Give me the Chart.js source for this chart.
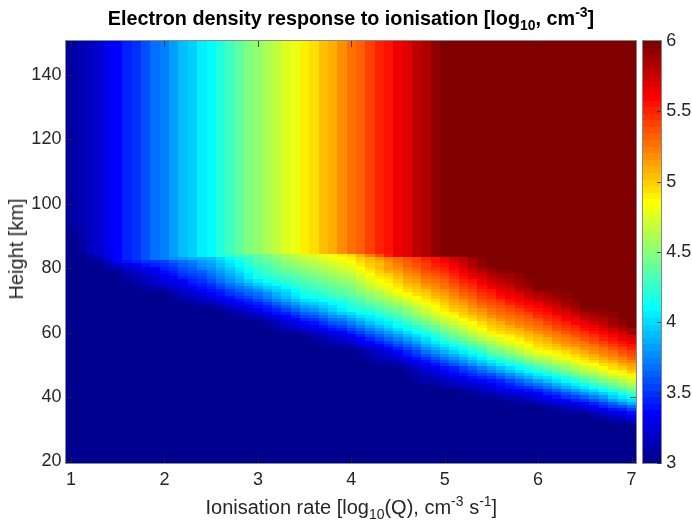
<!DOCTYPE html>
<html>
<head>
<meta charset="utf-8">
<script src="https://cdn.jsdelivr.net/npm/chart.js@4.4.1/dist/chart.umd.min.js"></script>
<style>
html,body{margin:0;padding:0;background:#fff;}
#wrap{position:relative;width:692px;height:524px;overflow:hidden;background:#fff;}
#c{position:absolute;left:0;top:0;}
.lbl{position:absolute;white-space:nowrap;font-family:"Liberation Sans",Arial,Helvetica,sans-serif;font-size:20px;line-height:20px;}
#title{left:351px;top:8px;transform:translateX(-50%);font-weight:bold;color:#000;font-size:19.8px;}
#xlabel{left:351.3px;top:497px;transform:translateX(-50%);color:#262626;}
#ylabel{left:16px;top:249px;transform:translate(-50%,-50%) rotate(-90deg);color:#262626;}
.sub{font-size:14px;position:relative;top:5px;}
.sup{font-size:14px;position:relative;top:-8px;}
</style>
</head>
<body>
<div id="wrap">
  <canvas id="c" width="692" height="524"></canvas>
  <div id="title" class="lbl">Electron density response to ionisation [log<span class="sub">10</span>, cm<span class="sup">-3</span>]</div>
  <div id="xlabel" class="lbl">Ionisation rate [log<span class="sub">10</span>(Q), cm<span class="sup">-3</span> s<span class="sup">-1</span>]</div>
  <div id="ylabel" class="lbl">Height [km]</div>
</div>
<script>
// ---- grid (cell centres) ----
const xCenters = [1.0,1.1,1.2,1.3,1.4,1.5,1.6,1.7,1.8,1.9,2.0,2.1,2.2,2.3,2.4,2.5,2.6,2.7,2.8,2.9,
  3.0,3.1,3.2,3.3,3.4,3.5,3.6,3.7,3.8,3.9,4.0,4.1,4.2,4.3,4.4,4.5,4.6,4.7,4.8,4.9,
  5.0,5.1,5.2,5.3,5.4,5.5,5.6,5.7,5.8,5.9,6.0,6.1,6.2,6.3,6.4,6.5,6.6,6.7,6.8,6.9,7.0];
const heights = [20,21,22,23,24,25,26,27,28,29,30,31,32,33,34,35,36,37,38,39,40,41,42,43,44,45,46,47,48,49,
  50,51,52,53,54,55,56,57,58,59,60,61,62,63,64,65,66,67,68,69,70,71,72,73,74,75,76,77,78,79,
  80,81,82,83,84,85,86,87,88,89,90,91,92,93,94,95,96,97,98,99,100,101,102,103,104,105,106,107,108,109,
  110,111,112,113,114,115,116,117,118,119,120,121,122,123,124,125,126,127,128,129,130,131,132,133,134,135,136,137,138,139,
  140,141,142,143,144,145,146,147,148,149,150];

// ---- tick labels ----
const xTicks = [1,2,3,4,5,6,7];
const yTicks = [20,40,60,80,100,120,140];
const cTicks = [3,3.5,4,4.5,5,5.5,6];

// ---- vertical profiles read from the picture at sampled ionisation rates ----
// each profile: heights [km] and log10 electron density at those heights
const profileX = [1,1.25,1.5,2,2.5,3,3.5,4,4.5,5,5.5,6,6.5,7];
const profileHeights = [
  [86,92,94],
  [81.5,84,85],
  [77,79.5,81.5,82],
  [71.5,75.5,79.5,82,82.5],
  [67,71.5,76.5,83.5,84],
  [63,68,72.8,76.5,84.5,85],
  [58.5,63.5,71.5,78,84.5,85],
  [54,59.5,67,74.5,84,84.5],
  [48.5,54.5,62.5,68,73.3,80,83.5,84],
  [42,49,56.5,61.5,66.5,74,81.5,83,83.5],
  [39,45,51.5,55.5,60,66.5,74,81],
  [36.5,41.5,47.5,51,55,61.5,68.5,74.5],
  [34,38.2,43.6,46.9,50.8,56.3,62.5,68.5],
  [31,35,39.7,42.8,46.6,51.2,57,62.5]
];
const profileValues = [
  [3.0,3.04,3.06],
  [3.0,3.1,3.18],
  [3.0,3.1,3.25,3.36],
  [3.0,3.22,3.4,3.55,3.74],
  [3.0,3.3,3.6,3.95,4.12],
  [3.0,3.375,3.75,4.125,4.4,4.54],
  [3.0,3.375,4.125,4.45,4.75,4.88],
  [3.0,3.375,4.125,4.5,4.95,5.26],
  [3.0,3.375,4.125,4.5,4.875,5.2,5.3,5.64],
  [3.0,3.375,4.125,4.5,4.875,5.25,5.6,5.65,6.0],
  [3.0,3.375,4.125,4.5,4.875,5.25,5.625,6.0],
  [3.0,3.375,4.125,4.5,4.875,5.25,5.625,6.0],
  [3.0,3.375,4.125,4.5,4.875,5.25,5.625,6.0],
  [3.0,3.375,4.125,4.5,4.875,5.25,5.625,6.0]
];
const cMin = 3, cMax = 6;

function profileAt(k, h) {
  const hs = profileHeights[k], vs = profileValues[k];
  if (h <= hs[0]) return vs[0];
  for (let i = 1; i < hs.length; i++) {
    if (h <= hs[i]) {
      const t = (h - hs[i-1]) / (hs[i] - hs[i-1]);
      return vs[i-1] + t * (vs[i] - vs[i-1]);
    }
  }
  return vs[vs.length-1];
}
function cellValue(x, h) {
  let k0 = 0;
  while (k0 < profileX.length - 2 && x > profileX[k0 + 1] + 1e-9) k0++;
  const t = (x - profileX[k0]) / (profileX[k0 + 1] - profileX[k0]);
  return (1 - t) * profileAt(k0, h) + t * profileAt(k0 + 1, h);
}

// MATLAB jet(64)
function jet64(i) { // i: 1..64
  const n = 16;
  const u = k => (k >= 1 && k <= n) ? k / n : (k > n && k < 2*n) ? 1 : (k >= 2*n && k <= 3*n-1) ? (3*n - k) / n : 0;
  const r = u(i - 24), g = u(i - 8), b = u(i + 8);
  return 'rgb(' + Math.round(r*255) + ',' + Math.round(g*255) + ',' + Math.round(b*255) + ')';
}
function colorFor(v) {
  let idx = Math.floor((v - cMin) / (cMax - cMin) * 64) + 1;
  idx = Math.max(1, Math.min(64, idx));
  return jet64(idx);
}

const cells = [];
for (const x of xCenters) for (const h of heights) cells.push({x: x, y: h, v: cellValue(x, h)});

const dx = xCenters[1] - xCenters[0], dy = heights[1] - heights[0];

const heatmapPlugin = {
  id: 'heatmap',
  beforeDatasetsDraw(chart) {
    const ctx = chart.ctx, xs = chart.scales.x, ys = chart.scales.y;
    ctx.save();
    for (const c of chart.data.datasets[0].data) {
      const x0 = Math.round(xs.getPixelForValue(c.x - dx/2));
      const x1 = Math.round(xs.getPixelForValue(c.x + dx/2));
      const y0 = Math.round(ys.getPixelForValue(c.y + dy/2));
      const y1 = Math.round(ys.getPixelForValue(c.y - dy/2));
      ctx.fillStyle = colorFor(c.v);
      ctx.fillRect(x0, y0, x1 - x0, y1 - y0);
    }
    // colour bar
    const cb = chart.scales.cb;
    const bx0 = Math.round(cb.left + 7), bx1 = Math.round(cb.left + 25);
    for (let i = 0; i < 64; i++) {
      const yA = Math.round(cb.getPixelForValue(cMin + (i + 1) * (cMax - cMin) / 64));
      const yB = Math.round(cb.getPixelForValue(cMin + i * (cMax - cMin) / 64));
      ctx.fillStyle = jet64(i + 1);
      ctx.fillRect(bx0, yA, bx1 - bx0, yB - yA);
    }
    ctx.restore();
  },
  afterDraw(chart) {
    const ctx = chart.ctx, xs = chart.scales.x, ys = chart.scales.y, cb = chart.scales.cb;
    const a = chart.chartArea;
    const L = Math.round(a.left), R = Math.round(a.right), T = Math.round(a.top), B = Math.round(a.bottom);
    ctx.save();
    ctx.lineWidth = 1;
    ctx.strokeStyle = 'rgba(38,38,38,0.55)';
    ctx.strokeRect(L - 0.5, T - 0.5, R - L + 1, B - T + 1);
    ctx.strokeStyle = 'rgba(38,38,38,0.8)';
    ctx.beginPath();
    const tl = 6;
    for (const v of xTicks) {
      const p = Math.round(xs.getPixelForValue(v)) + 0.5;
      ctx.moveTo(p, B); ctx.lineTo(p, B - tl);
      ctx.moveTo(p, T); ctx.lineTo(p, T + tl);
    }
    for (const v of yTicks) {
      const p = Math.round(ys.getPixelForValue(v)) + 0.5;
      ctx.moveTo(L, p); ctx.lineTo(L + tl, p);
      ctx.moveTo(R, p); ctx.lineTo(R - tl, p);
    }
    ctx.stroke();
    // colour bar frame and ticks
    const bx0 = Math.round(cb.left + 7), bx1 = Math.round(cb.left + 25);
    ctx.strokeStyle = 'rgba(38,38,38,0.55)';
    ctx.strokeRect(bx0 - 0.5, T - 0.5, bx1 - bx0 + 1, B - T + 1);
    ctx.strokeStyle = 'rgba(38,38,38,0.8)';
    ctx.beginPath();
    for (const v of cTicks) {
      const p = Math.round(cb.getPixelForValue(v)) + 0.5;
      ctx.moveTo(bx1, p); ctx.lineTo(bx1 - 4, p);
    }
    ctx.stroke();
    ctx.restore();
  }
};

Chart.defaults.font.family = '"Liberation Sans", Arial, Helvetica, sans-serif';
const tickFont = {size: 18};
const tickColor = '#262626';

new Chart(document.getElementById('c'), {
  type: 'scatter',
  data: {datasets: [{data: cells, pointRadius: 0, pointHoverRadius: 0, showLine: false}]},
  options: {
    responsive: false,
    animation: false,
    devicePixelRatio: 1,
    events: [],
    layout: {padding: {left: 0, right: 0, top: 41.2, bottom: 0}},
    plugins: {legend: {display: false}, tooltip: {enabled: false}, title: {display: false}},
    scales: {
      x: {
        type: 'linear', min: 0.95, max: 7.05,
        afterBuildTicks: s => { s.ticks = xTicks.map(v => ({value: v})); },
        afterFit: s => { s.height = 61; },
        grid: {display: false, drawTicks: false},
        border: {display: false},
        ticks: {font: tickFont, color: tickColor, padding: 6, maxRotation: 0, autoSkip: false, callback: v => String(v)}
      },
      y: {
        type: 'linear', min: 19.5, max: 150.5,
        afterBuildTicks: s => { s.ticks = yTicks.map(v => ({value: v})); },
        afterFit: s => { s.width = 66.4; },
        grid: {display: false, drawTicks: false},
        border: {display: false},
        ticks: {font: tickFont, color: tickColor, padding: 5, autoSkip: false, callback: v => String(v)}
      },
      cb: {
        type: 'linear', position: 'right', min: cMin, max: cMax,
        afterBuildTicks: s => { s.ticks = cTicks.map(v => ({value: v})); },
        afterFit: s => { s.width = 692 - 636.2; },
        grid: {display: false, drawTicks: false},
        border: {display: false},
        ticks: {font: tickFont, color: tickColor, padding: 30, autoSkip: false, callback: v => String(v)}
      }
    }
  },
  plugins: [heatmapPlugin]
});
</script>
</body>
</html>
